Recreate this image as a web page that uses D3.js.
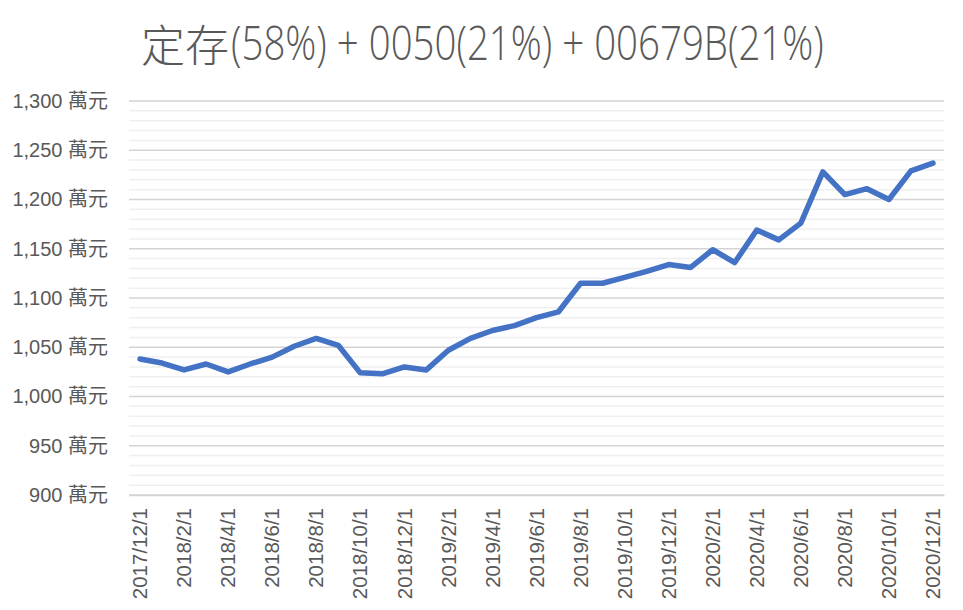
<!DOCTYPE html>
<html>
<head>
<meta charset="utf-8">
<script src="https://cdn.jsdelivr.net/npm/d3@7/dist/d3.min.js"></script>
<style>
  html, body { margin: 0; padding: 0; background: #fff; }
  svg text { font-family: "Liberation Sans", "Noto Sans CJK TC", sans-serif; fill: #595959; }
</style>
</head>
<body>
<svg id="chart" width="963" height="610"></svg>
<script>
const titleCJK = "定存";
const titleRest = "(58%) + 0050(21%) + 00679B(21%)";
const months = [
  "2017/12/1","2018/1/1","2018/2/1","2018/3/1","2018/4/1","2018/5/1","2018/6/1","2018/7/1","2018/8/1","2018/9/1","2018/10/1","2018/11/1","2018/12/1",
  "2019/1/1","2019/2/1","2019/3/1","2019/4/1","2019/5/1","2019/6/1","2019/7/1","2019/8/1","2019/9/1","2019/10/1","2019/11/1","2019/12/1",
  "2020/1/1","2020/2/1","2020/3/1","2020/4/1","2020/5/1","2020/6/1","2020/7/1","2020/8/1","2020/9/1","2020/10/1","2020/11/1","2020/12/1"
];
const values = [
  1038,1034,1027,1033,1025,1033,1040,1051,1059,1052,1024,1023,1030,
  1027,1047,1059,1067,1072,1080,1086,1115,1115,1121,1127,1134,
  1131,1149,1136,1169,1159,1176,1228,1205,1211,1200,1229,1237
];
const yMajorTicks = [900,950,1000,1050,1100,1150,1200,1250,1300];
const yMinorStep = 10;
const yUnit = " 萬元";

const svg = d3.select("#chart");
const margin = {left: 129, right: 19, top: 101, bottom: 115};
const W = 963, H = 610;

const x = d3.scaleBand().domain(months).range([margin.left, W - margin.right]);
const y = d3.scaleLinear().domain([900, 1300]).range([H - margin.bottom, margin.top]);

// minor gridlines
const minor = d3.range(900, 1300 + 1, yMinorStep).filter(v => !yMajorTicks.includes(v));
svg.append("g").selectAll("line").data(minor).join("line")
  .attr("x1", margin.left).attr("x2", W - margin.right)
  .attr("y1", d => y(d)).attr("y2", d => y(d))
  .attr("stroke", "#efefef").attr("stroke-width", 1.5);

// major gridlines
svg.append("g").selectAll("line").data(yMajorTicks).join("line")
  .attr("x1", margin.left).attr("x2", W - margin.right)
  .attr("y1", d => y(d)).attr("y2", d => y(d))
  .attr("stroke", "#d4d4d4").attr("stroke-width", 1.5);

// y axis labels
const yAxis = d3.axisLeft(y).tickValues(yMajorTicks).tickSize(0).tickPadding(21)
  .tickFormat(d => d3.format(",")(d) + yUnit);
const gy = svg.append("g").attr("transform", `translate(${margin.left},0)`).call(yAxis);
gy.select(".domain").remove();
gy.selectAll("text").style("font-size", "20px").attr("fill", "#595959");

// x axis
const xAxis = d3.axisBottom(x).tickValues(months.filter((d, i) => i % 2 === 0)).tickSize(0).tickPadding(0);
const gx = svg.append("g").attr("transform", `translate(0,${H - margin.bottom})`).call(xAxis);
gx.select(".domain").attr("stroke", "#d4d4d4").attr("stroke-width", 1.5);
gx.selectAll("text")
  .style("font-size", "20.5px")
  .attr("fill", "#595959")
  .attr("text-anchor", "end")
  .attr("transform", "rotate(-90)")
  .attr("x", -13)
  .attr("y", 0)
  .attr("dy", "0.35em");

// line
const line = d3.line()
  .x((d, i) => x(months[i]) + x.bandwidth() / 2)
  .y(d => y(d));
svg.append("path").datum(values)
  .attr("fill", "none")
  .attr("stroke", "#4472C4")
  .attr("stroke-width", 5.5)
  .attr("stroke-linejoin", "round")
  .attr("stroke-linecap", "round")
  .attr("d", line);

// title
const tg = svg.append("g");
tg.append("text")
  .attr("x", 141).attr("y", 62)
  .style("font-family", "'Noto Sans CJK TC', sans-serif")
  .style("font-size", "44px")
  .style("font-weight", "300")
  .text(titleCJK);
const restX = 231, restEnd = 824;
const rest = tg.append("text")
  .attr("x", 0).attr("y", 0)
  .style("font-family", "'Open Sans', 'Liberation Sans', sans-serif")
  .style("font-size", "48px")
  .style("font-weight", "300")
  .text(titleRest);
const natural = rest.node().getComputedTextLength();
rest.attr("transform", `translate(${restX},60) scale(${(restEnd - restX) / natural},1)`);
</script>
</body>
</html>
